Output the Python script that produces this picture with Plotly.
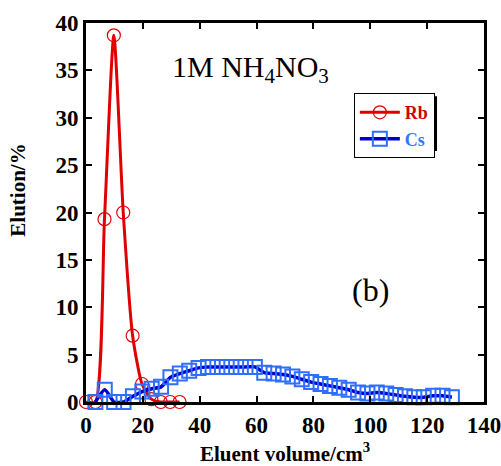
import plotly.graph_objects as go

rb_x = [0, 3.3, 6.5, 9.8, 13.1, 16.4, 19.7, 23.0, 26.3, 29.6, 32.9]
rb_y = [0, 0, 19.3, 38.7, 20.0, 7.0, 1.9, 0.3, 0.0, 0.0, 0.0]

cs_x = [3.3, 6.6, 9.9, 13.2, 16.5, 19.8, 23.1, 26.4, 29.7, 33.0, 36.3, 39.6,
        42.9, 46.2, 49.5, 52.8, 56.1, 59.4, 62.7, 66.0, 69.3, 72.6, 75.9, 79.2,
        82.5, 85.8, 89.1, 92.4, 95.7, 99.0, 102.3, 105.6, 108.9, 112.2, 115.5,
        118.8, 122.1, 125.4, 128.7]
cs_y = [0.0, 1.3, 0.0, 0.0, 0.6, 1.1, 1.4, 1.6, 2.6, 3.0, 3.3, 3.6,
        3.7, 3.7, 3.7, 3.7, 3.7, 3.7, 3.1, 3.0, 2.9, 2.7, 2.4, 2.1,
        1.9, 1.7, 1.5, 1.3, 1.0, 0.9, 1.0, 0.9, 0.75, 0.6, 0.5,
        0.5, 0.65, 0.65, 0.5]

x_ticks = [0, 20, 40, 60, 80, 100, 120, 140]
y_ticks = [0, 5, 10, 15, 20, 25, 30, 35, 40]

FONT = "Liberation Serif, Times New Roman, serif"

fig = go.Figure()
fig.add_trace(go.Scatter(
    x=rb_x, y=rb_y, name="<span style='color:#d00000'>Rb</span>", mode="lines+markers",
    line=dict(color="#e00000", width=3, shape="spline", smoothing=0.6),
    marker=dict(symbol="circle-open", size=13, color="#e00000", line=dict(width=1.2)),
    cliponaxis=False,
))
fig.add_trace(go.Scatter(
    x=cs_x, y=cs_y, name="<span style='color:#3377ff'>Cs</span>", mode="lines+markers",
    line=dict(color="#0000cc", width=3.5, shape="spline", smoothing=0.6),
    marker=dict(symbol="square-open", size=14, color="#2f6fff", line=dict(width=2)),
    cliponaxis=False,
))

axis_common = dict(
    showline=True, linecolor="black", linewidth=3, mirror="ticks",
    ticks="inside", ticklen=6, tickwidth=1.5, tickcolor="black",
    showgrid=False, zeroline=False, automargin=False,
    ticklabeloverflow="allow",
    tickfont=dict(family=FONT, size=23, color="black", weight="bold"),
)

fig.update_xaxes(range=[0, 140], tickvals=x_ticks,
                 ticktext=[str(v) for v in x_ticks], **axis_common)
fig.update_yaxes(range=[0, 40], tickvals=y_ticks,
                 ticktext=[str(v) for v in y_ticks], **axis_common)

fig.add_annotation(x=0.5, y=-0.132, xref="paper", yref="paper", showarrow=False,
                   xanchor="center", yanchor="middle",
                   text="<b>Eluent volume/cm<sup>3</sup></b>",
                   font=dict(family=FONT, size=21, color="black"))
fig.add_annotation(x=-0.171, y=0.56, xref="paper", yref="paper", showarrow=False,
                   xanchor="center", yanchor="middle",
                   text="<b>Elution/%</b>", textangle=-90,
                   font=dict(family=FONT, size=21, color="black"))

fig.add_annotation(x=57.7, y=35.1, xref="x", yref="y", showarrow=False,
                   text="1M NH<sub>4</sub>NO<sub>3</sub>",
                   font=dict(family=FONT, size=30, color="black"))
fig.add_annotation(x=100.2, y=11.8, xref="x", yref="y", showarrow=False,
                   text="(b)", font=dict(family=FONT, size=32, color="black"))

# legend shadow
fig.add_shape(type="rect", xref="paper", yref="paper",
              x0=0.683, x1=0.882, y0=0.662, y1=0.807,
              fillcolor="black", line=dict(width=0), layer="below")

fig.update_layout(
    width=501, height=466,
    margin=dict(l=86, r=17, t=23, b=64),
    paper_bgcolor="white", plot_bgcolor="rgba(0,0,0,0)",
    showlegend=True,
    legend=dict(x=0.673, y=0.815, xanchor="left", yanchor="top",
                bgcolor="white", bordercolor="black", borderwidth=1,
                font=dict(family=FONT, size=18, weight="bold"),
                itemwidth=40, tracegroupgap=0),
)

page_css = ("document.body.style.margin='0';"
            "document.documentElement.style.overflow='hidden';"
            "document.body.style.overflow='hidden';")
fig.write_html("out.html", post_script=page_css, config={"displayModeBar": False})
